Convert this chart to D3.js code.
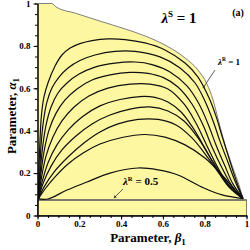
<html>
<head>
<script src="https://d3js.org/d3.v7.min.js"></script>
<style>
  body { margin: 0; background: #fff; }
  text { font-family: "Liberation Serif", "Times New Roman", serif; font-weight: bold; fill: #000; }
</style>
</head>
<body>
<div id="chart"></div>
<script>
// level curves of lambda^R, points as [beta1, alpha1]
var lambdaR = [0.55, 0.6, 0.65, 0.7, 0.75, 0.8, 0.85, 0.9, 0.95, 1]

var curve055 = [[0.005,0.078],[0.050,0.078],[0.141,0.120],[0.237,0.158],[0.347,0.200],[0.481,0.224],[0.577,0.215],[0.672,0.191],[0.787,0.134],[0.883,0.097],[0.983,0.080]]
var curve060 = [[0.005,0.080],[0.036,0.125],[0.084,0.182],[0.146,0.243],[0.218,0.295],[0.299,0.337],[0.404,0.368],[0.514,0.382],[0.610,0.370],[0.706,0.333],[0.801,0.271],[0.883,0.191],[0.945,0.120],[0.983,0.080]]
var curve065 = [[0.005,0.080],[0.031,0.134],[0.079,0.205],[0.146,0.276],[0.222,0.342],[0.299,0.394],[0.385,0.432],[0.481,0.453],[0.577,0.453],[0.663,0.427],[0.739,0.366],[0.806,0.285],[0.868,0.200],[0.931,0.125],[0.983,0.080]]
var curve070 = [[0.005,0.080],[0.026,0.149],[0.065,0.233],[0.117,0.309],[0.184,0.375],[0.261,0.432],[0.347,0.474],[0.443,0.502],[0.538,0.512],[0.624,0.493],[0.701,0.446],[0.768,0.366],[0.825,0.276],[0.883,0.186],[0.940,0.116],[0.983,0.080]]
var curve075 = [[0.005,0.080],[0.022,0.158],[0.050,0.248],[0.093,0.333],[0.146,0.403],[0.213,0.465],[0.299,0.517],[0.395,0.547],[0.490,0.561],[0.562,0.557],[0.624,0.535],[0.687,0.488],[0.744,0.413],[0.801,0.318],[0.854,0.224],[0.916,0.134],[0.983,0.080]]
var curve080 = [[0.005,0.080],[0.017,0.167],[0.041,0.281],[0.074,0.370],[0.117,0.446],[0.175,0.512],[0.246,0.564],[0.337,0.601],[0.443,0.620],[0.538,0.620],[0.624,0.597],[0.701,0.526],[0.758,0.436],[0.811,0.328],[0.864,0.224],[0.921,0.134],[0.983,0.080]]
var curve085 = [[0.005,0.080],[0.014,0.177],[0.031,0.300],[0.055,0.403],[0.089,0.483],[0.132,0.545],[0.189,0.597],[0.261,0.639],[0.347,0.663],[0.443,0.675],[0.529,0.670],[0.605,0.649],[0.672,0.606],[0.739,0.526],[0.792,0.427],[0.835,0.323],[0.883,0.224],[0.931,0.139],[0.983,0.080]]
var curve090 = [[0.005,0.080],[0.012,0.191],[0.024,0.318],[0.041,0.427],[0.065,0.512],[0.098,0.578],[0.141,0.625],[0.199,0.667],[0.275,0.700],[0.371,0.719],[0.467,0.724],[0.548,0.712],[0.634,0.677],[0.715,0.611],[0.773,0.526],[0.816,0.432],[0.854,0.333],[0.897,0.233],[0.935,0.149],[0.983,0.080]]
var curve095 = [[0.005,0.080],[0.010,0.191],[0.017,0.333],[0.029,0.450],[0.045,0.535],[0.069,0.601],[0.103,0.653],[0.146,0.696],[0.203,0.731],[0.275,0.757],[0.371,0.774],[0.467,0.774],[0.586,0.748],[0.682,0.696],[0.754,0.625],[0.801,0.540],[0.840,0.446],[0.873,0.351],[0.911,0.252],[0.945,0.163],[0.983,0.080]]
var curve100 = [[0.005,0.080],[0.007,0.215],[0.012,0.356],[0.019,0.474],[0.031,0.559],[0.050,0.625],[0.084,0.705],[0.117,0.757],[0.156,0.790],[0.203,0.811],[0.261,0.825],[0.337,0.833],[0.419,0.830],[0.514,0.814],[0.610,0.781],[0.706,0.719],[0.768,0.653],[0.821,0.554],[0.854,0.469],[0.883,0.375],[0.916,0.271],[0.950,0.167],[0.983,0.080]]

var curves = [curve055, curve060, curve065, curve070, curve075, curve080, curve085, curve090, curve095, curve100]

// outer edge of the admissible (yellow) region
var boundary = [[0,1],[0.069,1],[0.089,0.983],[0.179,0.955],[0.299,0.917],[0.419,0.880],[0.514,0.847],[0.610,0.804],[0.706,0.743],[0.768,0.686],[0.811,0.620],[0.840,0.545],[0.864,0.455],[0.888,0.366],[0.935,0.224],[0.964,0.144],[0.983,0.080]]

// lambda^R = 0.5 gives the flat strip at the bottom
var bandTop = 0.073

var xTicks = [0, 0.2, 0.4, 0.6, 0.8, 1]
var yTicks = [0, 0.2, 0.4, 0.6, 0.8, 1]
var minorTicks = d3.range(0, 1.001, 0.05)

var svg = d3.select("#chart").append("svg")
    .attr("width", 250)
    .attr("height", 250)

var x = d3.scaleLinear().domain([0, 1]).range([37.5, 246.5])
var y = d3.scaleLinear().domain([0, 1]).range([215.5, 3.5])

var line = d3.line()
    .x(d => x(d[0]))
    .y(d => y(d[1]))
    .curve(d3.curveCatmullRom.alpha(0.5))

var edge = d3.line()
    .x(d => x(d[0]))
    .y(d => y(d[1]))
    .curve(d3.curveMonotoneX)

var area = d3.area()
    .x(d => x(d[0]))
    .y0(y(0))
    .y1(d => y(d[1]))
    .curve(d3.curveMonotoneX)

var yellow = "#fcf7a0"

svg.append("path")
    .attr("d", area(boundary))
    .attr("fill", yellow)

svg.append("rect")
    .attr("x", x(0))
    .attr("y", y(bandTop))
    .attr("width", x(1) - x(0))
    .attr("height", y(0) - y(bandTop))
    .attr("fill", yellow)
    .attr("stroke", "#7d7d6d")
    .attr("stroke-width", 1)

svg.append("path")
    .attr("d", edge(boundary))
    .attr("fill", "none")
    .attr("stroke", "#808080")
    .attr("stroke-width", 1)

// the lambda^R = 0.5 line along the top of the strip
svg.append("line")
    .attr("x1", x(0)).attr("x2", x(1))
    .attr("y1", y(bandTop)).attr("y2", y(bandTop))
    .attr("stroke", "#7d7d6d")
    .attr("stroke-width", 2)

svg.append("g")
    .selectAll("path")
    .data(curves)
    .join("path")
        .attr("d", line)
        .attr("fill", "none")
        .attr("stroke", "#111")
        .attr("stroke-width", 1.2)

// axes
var xAxis = svg.append("g").attr("transform", `translate(0,${y(0)})`)
xAxis.call(d3.axisBottom(x).tickValues(minorTicks).tickSize(2.5).tickFormat("").tickSizeOuter(0))
xAxis.append("g").call(d3.axisBottom(x).tickValues(xTicks).tickSize(4).tickPadding(1).tickSizeOuter(0).tickFormat(d => d))

var yAxis = svg.append("g").attr("transform", `translate(${x(0)},0)`)
yAxis.call(d3.axisLeft(y).tickValues(minorTicks).tickSize(2.5).tickFormat("").tickSizeOuter(0))
yAxis.append("g").call(d3.axisLeft(y).tickValues(yTicks).tickSize(4).tickPadding(3).tickSizeOuter(0).tickFormat(d => d))

svg.selectAll(".tick text")
    .attr("font-size", 9)
    .attr("font-family", "Liberation Serif")
    .attr("font-weight", "bold")
svg.selectAll(".domain, .tick line").attr("stroke", "#000")

// axis titles
var xt = svg.append("text")
    .attr("x", 148).attr("y", 242)
    .attr("text-anchor", "middle")
    .attr("font-size", 13)
xt.append("tspan").text("Parameter, ")
xt.append("tspan").attr("font-style", "italic").text("β")
xt.append("tspan").attr("font-size", 9).attr("dy", 3).text("1")

var yt = svg.append("text")
    .attr("transform", "translate(16,116) rotate(-90)")
    .attr("text-anchor", "middle")
    .attr("font-size", 13)
yt.append("tspan").text("Parameter, ")
yt.append("tspan").attr("font-style", "italic").text("α")
yt.append("tspan").attr("font-size", 9).attr("dy", 3).text("1")

// title and panel tag
var title = svg.append("text")
    .attr("x", 179).attr("y", 23)
    .attr("text-anchor", "middle")
    .attr("font-size", 15)
title.append("tspan").attr("font-style", "italic").text("λ")
title.append("tspan").attr("font-size", 9).attr("dy", -6).text("S")
title.append("tspan").attr("dy", 6).text(" = 1")

svg.append("text")
    .attr("x", 238).attr("y", 16)
    .attr("text-anchor", "middle")
    .attr("font-size", 10)
    .text("(a)")

// curve labels with arrows
svg.append("defs").append("marker")
    .attr("id", "tip")
    .attr("viewBox", "0 0 6 6")
    .attr("refX", 5).attr("refY", 3)
    .attr("markerWidth", 4).attr("markerHeight", 4)
    .attr("orient", "auto")
    .append("path")
        .attr("d", "M0,0L6,3L0,6Z")
        .attr("fill", "#333")

var labels = [
    {text: "1", size: 9, at: [0.864, 0.71], from: [0.849, 0.686], to: [0.792, 0.601]},
    {text: "0.5", size: 11, at: [0.409, 0.144], from: [0.409, 0.125], to: [0.366, 0.083]}
]

labels.forEach(function(l) {
    svg.append("line")
        .attr("x1", x(l.from[0])).attr("y1", y(l.from[1]))
        .attr("x2", x(l.to[0])).attr("y2", y(l.to[1]))
        .attr("stroke", "#333")
        .attr("stroke-width", 0.8)
        .attr("marker-end", "url(#tip)")
    var t = svg.append("text")
        .attr("x", x(l.at[0])).attr("y", y(l.at[1]))
        .attr("font-size", l.size)
    t.append("tspan").attr("font-style", "italic").text("λ")
    t.append("tspan").attr("font-size", l.size * 0.6).attr("dy", -l.size * 0.4).text("R")
    t.append("tspan").attr("dy", l.size * 0.4).text(" = " + l.text)
})
</script>
</body>
</html>
